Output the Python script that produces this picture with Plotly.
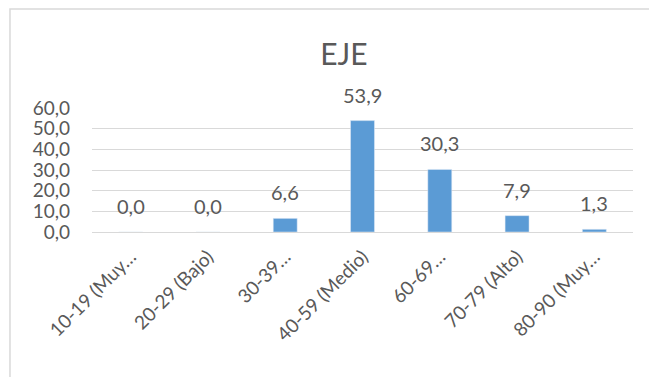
import plotly.graph_objects as go

categories = ["10-19 (Muy…", "20-29 (Bajo)", "30-39…", "40-59 (Medio)",
              "60-69…", "70-79 (Alto)", "80-90 (Muy…"]
values = [0.0, 0.0, 6.6, 53.9, 30.3, 7.9, 1.3]
title_text = "EJE"
y_ticks = [0, 10, 20, 30, 40, 50, 60]

TEXT = "#595959"
GRID = "#D9D9D9"
BAR = "#5B9BD5"
FONT = "Lato"

fig = go.Figure()
fig.add_trace(go.Bar(x=categories, y=values, marker_color=BAR, width=0.31,
                     hoverinfo="skip"))

annotations = []
for c, v in zip(categories, values):
    annotations.append(dict(x=c, y=v, xref="x", yref="y",
                            text=f"{v:.1f}".replace(".", ","),
                            showarrow=False, yanchor="bottom", yshift=12,
                            font=dict(family=FONT, size=20, color=TEXT)))

fig.update_layout(
    width=649, height=377,
    margin=dict(l=92, r=16, t=108, b=145),
    paper_bgcolor="white", plot_bgcolor="white",
    separators=",.",
    showlegend=False,
    title=dict(text=title_text, x=0.53, xanchor="center", y=0.855, yanchor="middle",
               font=dict(family=FONT, size=30, color=TEXT)),
    annotations=annotations,
    xaxis=dict(type="category", tickangle=-45, showgrid=False, showline=False,
               zeroline=False, ticks="", ticklabelstandoff=9,
               tickfont=dict(family=FONT, size=19, color=TEXT)),
    yaxis=dict(range=[0, 60], tickvals=y_ticks, tickformat=".1f",
               showgrid=True, gridcolor=GRID, gridwidth=1,
               zeroline=True, zerolinecolor=GRID, zerolinewidth=1,
               showline=False, ticks="", ticklabelstandoff=21,
               tickfont=dict(family=FONT, size=19, color=TEXT)),
    shapes=[dict(type="rect", xref="paper", yref="paper",
                 x0=-0.1516, x1=1.06, y0=-1.4, y1=1.798,
                 line=dict(color=GRID, width=1.5), fillcolor="rgba(0,0,0,0)",
                 layer="below")],
)

fig.write_html("out.html")
